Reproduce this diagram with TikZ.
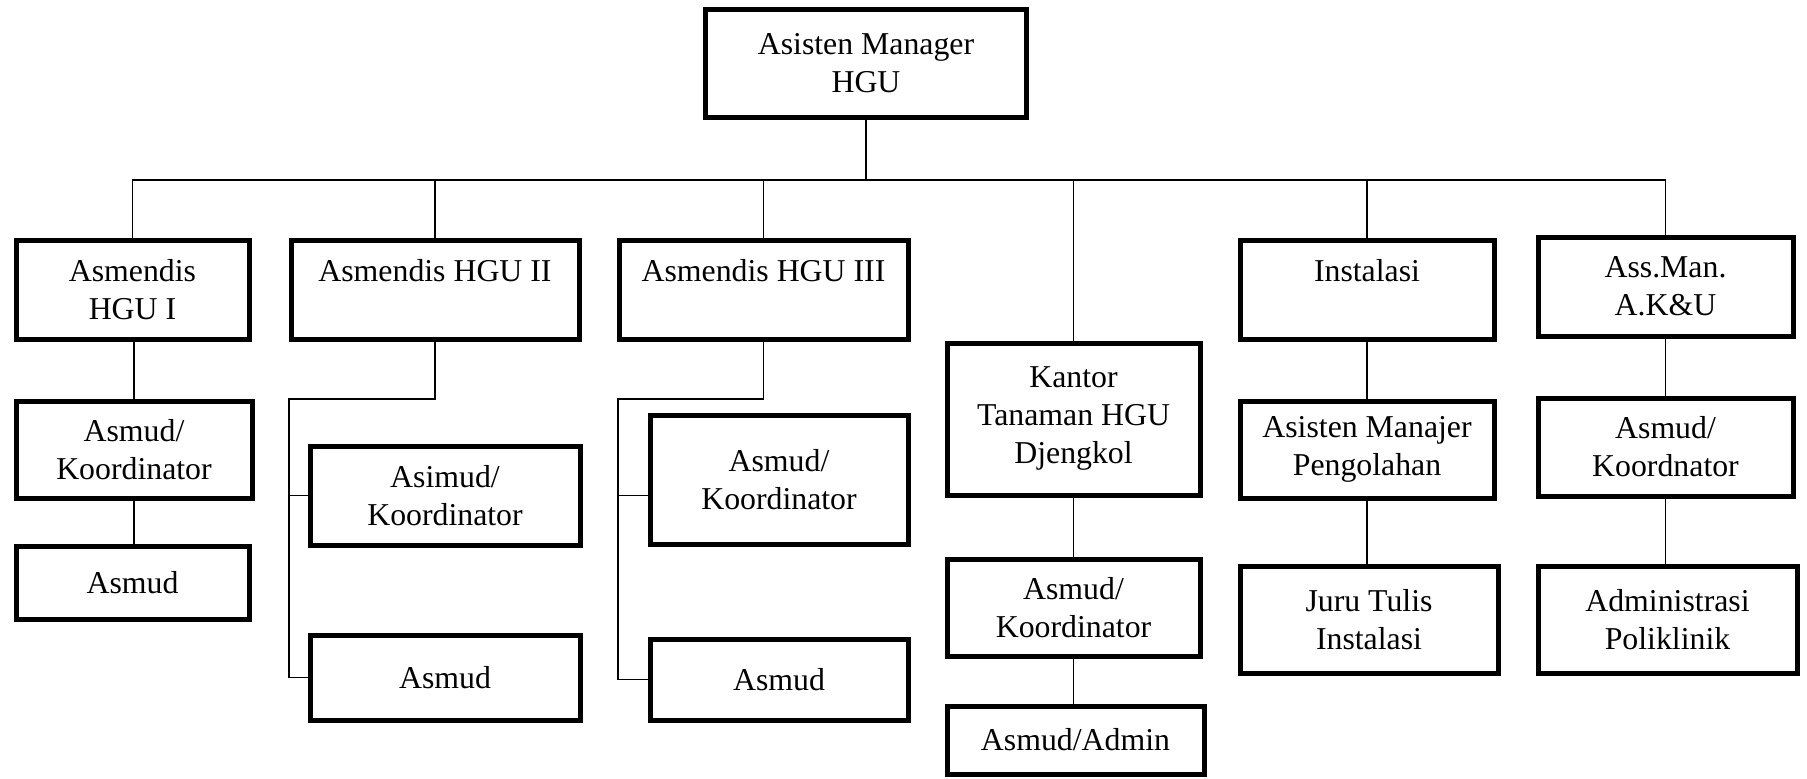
\documentclass[tikz,border=0pt]{standalone}
\usepackage{fontspec}
\setmainfont{Liberation Serif}
\usepackage{tikz}

\begin{document}
\begin{tikzpicture}[x=0.5pt,y=-0.5pt,
    box/.style={draw,line width=2.5pt,align=center,inner sep=0pt,font=\fontsize{15.9}{19}\selectfont},
    link/.style={line width=0.75pt}]
  \useasboundingbox (0,0) rectangle (1807,778);

  % Top
  \node[box,minimum width=160.5pt,minimum height=54pt] (top) at (866,63) {Asisten Manager\\HGU};
  \coordinate (bus) at (866,180);

  % Row 1
  \node[box,minimum width=116.5pt,minimum height=49.5pt] (hgu1) at (132.5,289.5) {Asmendis\\HGU I};
  \node[box,minimum width=144pt,minimum height=49.5pt] (hgu2) at (435,289.5) {Asmendis HGU II\\\mbox{}};
  \node[box,minimum width=144.5pt,minimum height=49.5pt] (hgu3) at (763.5,289.5) {Asmendis HGU III\\\mbox{}};
  \node[box,minimum width=126.5pt,minimum height=76pt] (kantor) at (1073.5,419) {Kantor\\Tanaman HGU\\Djengkol};
  \node[box,minimum width=127pt,minimum height=49.5pt] (inst) at (1367,289.5) {Instalasi\\\mbox{}};
  \node[box,minimum width=127.5pt,minimum height=49.5pt] (akmu) at (1665.5,286.5) {Ass.Man.\\A.K\&U};

  \foreach \n in {hgu1,hgu2,hgu3,kantor,inst,akmu}
    \draw[link] (top.south) -- (bus) -| (\n.north);

  % HGU I
  \node[box,minimum width=118pt,minimum height=48.5pt] (ak1) at (134,449.5) {Asmud/\\Koordinator};
  \node[box,minimum width=116.5pt,minimum height=36.5pt] (asm1) at (132.5,582.5) {Asmud};
  \draw[link] (hgu1.south -| ak1.north) -- (ak1.north);
  \draw[link] (ak1.south) -- (ak1.south |- asm1.north);

  % HGU II
  \node[box,minimum width=135pt,minimum height=49.5pt] (asi2) at (445,495.5) {Asimud/\\Koordinator};
  \node[box,minimum width=135pt,minimum height=42.5pt] (asm2) at (445,677.5) {Asmud};
  \coordinate (j2) at (289,399);
  \draw[link] (hgu2.south) |- (j2) |- (asm2.west);
  \draw[link] (j2 |- asi2.west) -- (asi2.west);

  % HGU III
  \node[box,minimum width=129pt,minimum height=64.5pt] (ak3) at (779,479.5) {Asmud/\\Koordinator};
  \node[box,minimum width=129pt,minimum height=40.5pt] (asm3) at (779,679.5) {Asmud};
  \coordinate (j3) at (618,399);
  \draw[link] (hgu3.south) |- (j3) |- (asm3.west);
  \draw[link] (j3 |- asi2.west) -- (ak3.west |- asi2.west);

  % Kantor
  \node[box,minimum width=126.5pt,minimum height=48.5pt] (ak4) at (1073.5,607.5) {Asmud/\\Koordinator};
  \node[box,minimum width=128.5pt,minimum height=34pt] (admin) at (1075.5,740) {Asmud/Admin};
  \draw[link] (kantor.south) -- (ak4.north);
  \draw[link] (ak4.south) -- (ak4.south |- admin.north);

  % Instalasi
  \node[box,minimum width=127pt,minimum height=48.5pt] (amp) at (1367,449.5) {Asisten Manajer\\Pengolahan};
  \node[box,minimum width=129pt,minimum height=53.5pt] (juru) at (1369,619.5) {Juru Tulis\\Instalasi};
  \draw[link] (inst.south) -- (amp.north);
  \draw[link] (amp.south) -- (amp.south |- juru.north);

  % Ass.Man.
  \node[box,minimum width=127.5pt,minimum height=49pt] (ak6) at (1665.5,447) {Asmud/\\Koordnator};
  \node[box,minimum width=129.5pt,minimum height=53.5pt] (poli) at (1667.5,619.5) {Administrasi\\Poliklinik};
  \draw[link] (akmu.south) -- (ak6.north);
  \draw[link] (ak6.south) -- (ak6.south |- poli.north);
\end{tikzpicture}
\end{document}
